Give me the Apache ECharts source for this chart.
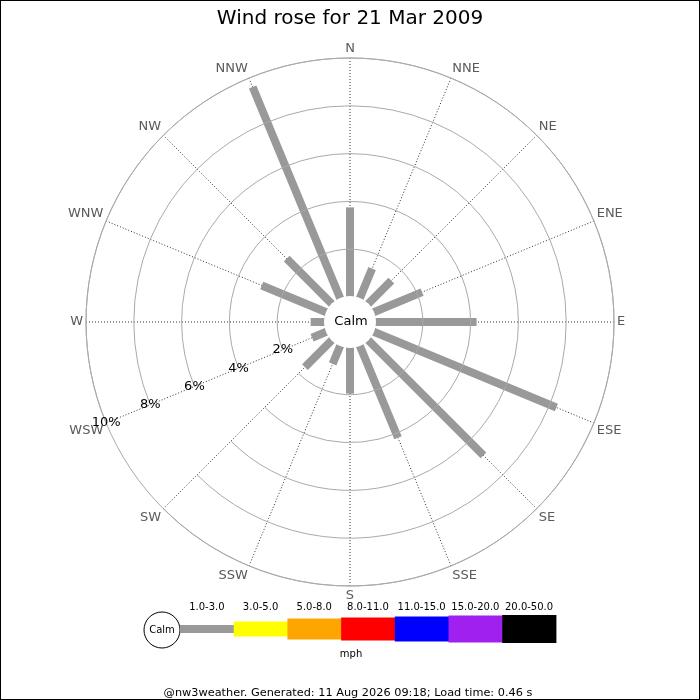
<!DOCTYPE html>
<html>
<head>
<meta charset="utf-8">
<script src="https://cdn.jsdelivr.net/npm/echarts@6/dist/echarts.min.js"></script>
<style>
  html, body { margin: 0; padding: 0; background: #fff; }
  #chart { width: 700px; height: 700px; }
</style>
</head>
<body>
<div id="chart"></div>
<script>
// compass directions, clockwise from north
var dirs = ['N','NNE','NE','ENE','E','ESE','SE','SSE','S','SSW','SW','WSW','W','WNW','NW','NNW'];
// frequency of wind from each direction, % of the day (1.0-3.0 mph band)
var freq = [3.75, 1.37, 1.4, 2.22, 4.25, 8.3, 6.85, 4.2, 1.95, 0.85, 1.62, 0.67, 0.6, 2.95, 2.7, 9.6];
// speed bands shown in the key
var bands = ['1.0-3.0','3.0-5.0','5.0-8.0','8.0-11.0','11.0-15.0','15.0-20.0','20.0-50.0'];
var bandColors = ['#999999','#ffff00','#ffa500','#ff0000','#0000ff','#a020f0','#000000'];

window.onload = function() {
  var ch = echarts.init(document.getElementById('chart'));
  var font = 'DejaVu Sans';

  // start the angle axis at WSW so the radius labels sit on that spoke
  var startIdx = dirs.indexOf('WSW');
  var angleCats = dirs.slice(startIdx).concat(dirs.slice(0, startIdx));

  var cx = 350, cy = 322;

  // key along the bottom
  var key = [];
  var keyH = [8, 15, 21, 23, 25, 27, 28];
  var kx = 180, kw = 53.7, ky = 629;
  key.push({
    type: 'circle', z: 100,
    shape: { cx: 162, cy: 630, r: 18 },
    style: { fill: '#fff', stroke: '#000', lineWidth: 1 }
  });
  key.push({
    type: 'text', z: 101, x: 162, y: 630,
    style: { text: 'Calm', fontSize: 10, fontFamily: font, fill: '#000', align: 'center', verticalAlign: 'middle' }
  });
  for (var i = 0; i < bands.length; i++) {
    key.push({
      type: 'rect', z: 100,
      shape: { x: kx + i * kw, y: ky - keyH[i] / 2, width: kw + 0.5, height: keyH[i] },
      style: { fill: bandColors[i] }
    });
    key.push({
      type: 'text', z: 100, x: kx + i * kw + kw / 2, y: 607,
      style: { text: bands[i], fontSize: 10, fontFamily: font, fill: '#000', align: 'center', verticalAlign: 'middle' }
    });
  }
  key.push({
    type: 'text', z: 100, x: 351, y: 654,
    style: { text: 'mph', fontSize: 10, fontFamily: font, fill: '#000', align: 'center', verticalAlign: 'middle' }
  });
  key.push({
    type: 'text', z: 100, x: 348, y: 693,
    style: { text: '@nw3weather. Generated: 11 Aug 2026 09:18; Load time: 0.46 s', fontSize: 11.3, fontFamily: font, fill: '#000', align: 'center', verticalAlign: 'middle' }
  });
  // calm circle in the middle
  key.push({
    type: 'circle', z: 100,
    shape: { cx: cx, cy: cy, r: 26 },
    style: { fill: '#fff' }
  });
  key.push({
    type: 'text', z: 101, x: cx + 1, y: cy,
    style: { text: 'Calm', fontSize: 13, fontFamily: font, fill: '#000', align: 'center', verticalAlign: 'middle' }
  });
  // frame
  key.push({
    type: 'rect', z: 100,
    shape: { x: 0, y: 0, width: 700, height: 700 },
    style: { fill: null, stroke: '#000', lineWidth: 2 }
  });

  var op = {
    animation: false,
    backgroundColor: '#fff',
    textStyle: { fontFamily: font },
    title: {
      text: 'Wind rose for 21 Mar 2009',
      left: 'center',
      top: 4,
      textStyle: { fontSize: 20, fontWeight: 'normal', color: '#000', fontFamily: font }
    },
    polar: {
      center: [cx, cy],
      radius: [25, 264]
    },
    angleAxis: {
      type: 'category',
      data: angleCats,
      startAngle: 202.5,
      clockwise: true,
      boundaryGap: false,
      axisLine: { show: true, lineStyle: { color: '#aaa', width: 1 } },
      axisTick: { show: false },
      axisLabel: { interval: 0, margin: 3, fontSize: 13, color: '#5a5a5a', fontFamily: font },
      splitLine: { show: true, interval: 0, lineStyle: { type: [1, 2], color: '#333', width: 1 } }
    },
    radiusAxis: {
      type: 'value',
      min: 0,
      max: 10,
      interval: 2,
      axisLine: { show: false },
      axisTick: { show: false },
      axisLabel: {
        margin: 0,
        align: 'center',
        verticalAlign: 'middle',
        fontSize: 13,
        color: '#000',
        fontFamily: font,
        formatter: function(v) { return v === 0 ? '' : v + '%'; }
      },
      splitLine: { show: true, lineStyle: { color: '#aaa', width: 1 } },
      z: 50
    },
    series: [{
      type: 'custom',
      coordinateSystem: 'polar',
      data: dirs.map(function(d, i) { return [freq[i], d]; }),
      renderItem: function(params, api) {
        var a = api.value(1);
        var p0 = api.coord([0, a]);
        var p1 = api.coord([api.value(0), a]);
        return {
          type: 'line',
          shape: { x1: p0[0], y1: p0[1], x2: p1[0], y2: p1[1] },
          style: { stroke: '#999', lineWidth: 8, lineCap: 'butt' }
        };
      }
    }],
    graphic: key
  };

  ch.setOption(op);
};
</script>
</body>
</html>
